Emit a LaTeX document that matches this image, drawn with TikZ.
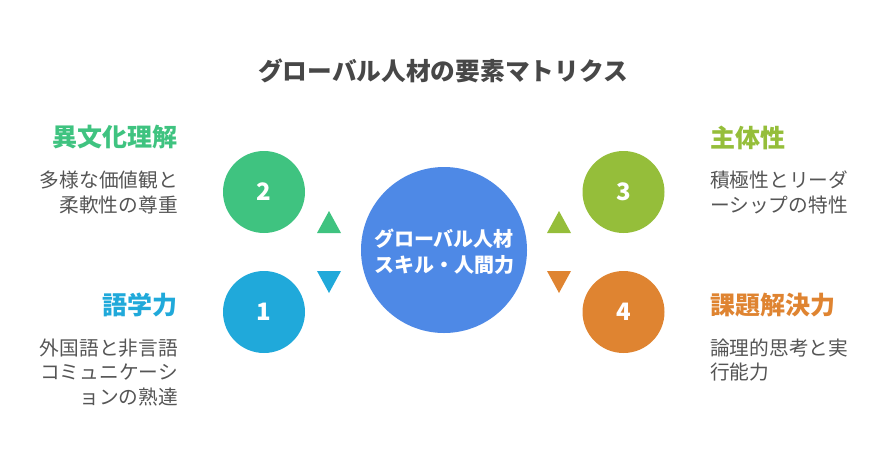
\documentclass[tikz,border=0pt]{standalone}
\usepackage{fontspec}
\setmainfont{Noto Sans CJK JP}
\usetikzlibrary{calc}

\definecolor{cgreen}{HTML}{3FC380}
\definecolor{cblue}{HTML}{20A9DA}
\definecolor{colive}{HTML}{95BE3A}
\definecolor{corange}{HTML}{DF8431}
\definecolor{ccenter}{HTML}{4E89E6}
\definecolor{ctitle}{HTML}{474747}
\definecolor{ctext}{HTML}{555555}

\begin{document}
\begin{tikzpicture}[x=1pt,y=-1pt,
	numcirc/.style={circle,minimum size=82pt,inner sep=0pt,text=white,font=\fontsize{24}{24}\selectfont\bfseries},
	head/.style={inner sep=0pt,font=\fontsize{25}{25}\selectfont\bfseries},
	body/.style={inner sep=0pt,text=ctext,font=\fontsize{19.7}{24.5}\selectfont}]
	\useasboundingbox (0,0) rectangle (888,456);
	% title
	\node[inner sep=0pt,text=ctitle,font=\fontsize{24.7}{24.7}\selectfont\bfseries] (title) at (443,71) {グローバル人材の要素マトリクス};
	% center
	\node[circle,fill=ccenter,minimum size=166pt,inner sep=0pt] (core) at (444,250) {};
	\node[inner sep=0pt,text=white,align=center,font=\fontsize{20}{26}\selectfont\bfseries] (coretext) at (444,252) {グローバル人材\\スキル・人間力};
	% numbered circles
	\node[numcirc,fill=cgreen] (c2) at (264,192) {2};
	\node[numcirc,fill=cblue] (c1) at (264,312) {1};
	\node[numcirc,fill=colive] (c3) at (623.5,192) {3};
	\node[numcirc,fill=corange] (c4) at (623.5,312) {4};
	% triangles
	\fill[cgreen] (317,233) -- (341,233) -- (329,211) -- cycle;
	\fill[cblue] (317,271) -- (341,271) -- (329,293) -- cycle;
	\fill[colive] (547,233) -- (571,233) -- (559,211) -- cycle;
	\fill[corange] (547,271) -- (571,271) -- (559,293) -- cycle;
	% left labels
	\node[head,text=cgreen,anchor=east] (h2) at (178,137) {異文化理解};
	\node[body,align=right,anchor=east] (t2) at (178,192.5) {多様な価値観と\\柔軟性の尊重};
	\node[head,text=cblue,anchor=east] (h1) at (178,305) {語学力};
	\node[body,align=right,anchor=east] (t1) at (178,372.5) {外国語と非言語\\コミュニケーシ\\ョンの熟達};
	% right labels
	\node[head,text=colive,anchor=west] (h3) at (710,138) {主体性};
	\node[body,align=left,anchor=west] (t3) at (710,192.5) {積極性とリーダ\\ーシップの特性};
	\node[head,text=corange,anchor=west] (h4) at (710,305) {課題解決力};
	\node[body,align=left,anchor=west] (t4) at (710,360) {論理的思考と実\\行能力};
\end{tikzpicture}
\end{document}
